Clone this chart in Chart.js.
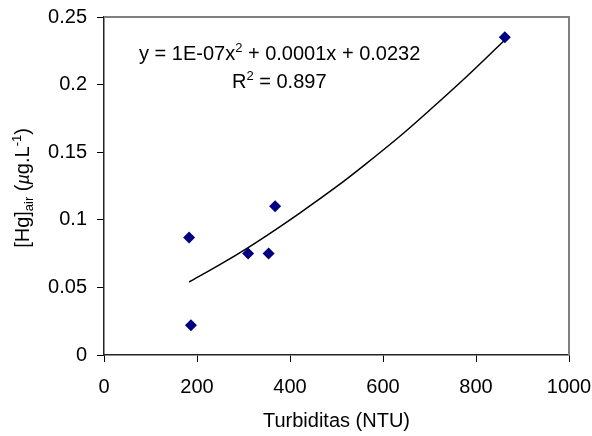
<!DOCTYPE html>
<html>
<head>
<meta charset="utf-8">
<script src="https://cdn.jsdelivr.net/npm/chart.js@4.4.1/dist/chart.umd.min.js"></script>
<style>
html,body{margin:0;padding:0;background:#fff;}
#wrap{width:592px;height:436px;position:relative;}
</style>
</head>
<body>
<div id="wrap"><canvas id="c" width="592" height="436"></canvas></div>
<script>
// Data
const turbidity = [183, 187, 310, 354, 368, 862];
const hgAir = [0.087, 0.022, 0.075, 0.075, 0.110, 0.235];
// Trend line (polynomial, order 2)
const trendX = [183, 250, 310, 370, 421, 500, 560, 637, 700, 780, 862];
const trendY = [0.054, 0.067, 0.0795, 0.093, 0.105, 0.1245, 0.1405, 0.162, 0.181, 0.206, 0.233];
const xTicks = [0, 200, 400, 600, 800, 1000];
const yTicks = [0, 0.05, 0.1, 0.15, 0.2, 0.25];
const equationText = ["y = 1E-07x", "2", " + 0.0001x + 0.0232"];
const r2Text = ["R", "2", " = 0.897"];
const xTitle = "Turbiditas (NTU)";

const FONT = "Liberation Sans, Arial, sans-serif";

const decor = {
  id: 'decor',
  afterDraw(chart) {
    const ctx = chart.ctx;
    const a = chart.chartArea;
    ctx.save();
    ctx.strokeStyle = '#808080';
    ctx.lineWidth = 2;
    ctx.beginPath();
    ctx.moveTo(a.left, a.top);
    ctx.lineTo(a.right, a.top);
    ctx.lineTo(a.right, a.bottom);
    ctx.stroke();

    ctx.fillStyle = '#000';
    ctx.textBaseline = 'alphabetic';
    ctx.textAlign = 'left';
    function drawSup(parts, x, y) {
      ctx.font = '20px ' + FONT;
      ctx.fillText(parts[0], x, y);
      x += ctx.measureText(parts[0]).width;
      ctx.font = '13px ' + FONT;
      ctx.fillText(parts[1], x, y - 8);
      x += ctx.measureText(parts[1]).width;
      ctx.font = '20px ' + FONT;
      ctx.fillText(parts[2], x, y);
    }
    drawSup(equationText, 139, 60);
    drawSup(r2Text, 232, 88);

    ctx.font = '20px ' + FONT;
    ctx.textAlign = 'center';
    ctx.textBaseline = 'middle';
    ctx.fillText(xTitle, (a.left + a.right) / 2, 421);

    const pieces = [
      {t: '[Hg]', f: '20px ' + FONT, dy: 0},
      {t: 'air', f: '13px ' + FONT, dy: 4},
      {t: ' (', f: '20px ' + FONT, dy: 0},
      {t: 'µ', f: 'italic 18px ' + FONT, dy: 0},
      {t: 'g.L', f: '20px ' + FONT, dy: 0},
      {t: '-1', f: '13px ' + FONT, dy: -8},
      {t: ')', f: '20px ' + FONT, dy: 0}
    ];
    let total = 0;
    pieces.forEach(p => { ctx.font = p.f; p.w = ctx.measureText(p.t).width; total += p.w; });
    ctx.translate(29, 188);
    ctx.rotate(-Math.PI / 2);
    ctx.textAlign = 'left';
    ctx.textBaseline = 'alphabetic';
    let x = -total / 2;
    pieces.forEach(p => { ctx.font = p.f; ctx.fillText(p.t, x, p.dy); x += p.w; });
    ctx.restore();
  }
};

new Chart(document.getElementById('c'), {
  type: 'scatter',
  data: {
    datasets: [
      {
        label: 'trend',
        data: trendX.map((x, i) => ({x: x, y: trendY[i]})),
        showLine: true,
        borderColor: '#000',
        borderWidth: 1.5,
        pointRadius: 0,
        fill: false,
        cubicInterpolationMode: 'monotone',
        order: 2
      },
      {
        label: 'Hg',
        data: turbidity.map((x, i) => ({x: x, y: hgAir[i]})),
        pointStyle: 'rectRot',
        pointRadius: 6,
        backgroundColor: '#000080',
        borderColor: '#000080',
        borderWidth: 0,
        order: 1
      }
    ]
  },
  options: {
    responsive: false,
    animation: false,
    layout: {padding: {left: 0, right: 23, top: 17, bottom: 0}},
    plugins: {legend: {display: false}, tooltip: {enabled: false}},
    scales: {
      x: {
        type: 'linear',
        min: 0, max: 1000,
        afterBuildTicks(s) { s.ticks = xTicks.map(v => ({value: v})); },
        afterFit(s) { s.height = 81; s.paddingLeft = 0; s.paddingRight = 0; },
        grid: {drawOnChartArea: false, drawTicks: true, tickLength: 7, color: '#000', lineWidth: 1},
        border: {display: true, color: '#222', width: 1.5},
        ticks: {color: '#000', font: {family: FONT, size: 20}, padding: 13, maxRotation: 0,
          callback: v => String(v)}
      },
      y: {
        type: 'linear',
        min: 0, max: 0.25,
        afterBuildTicks(s) { s.ticks = yTicks.map(v => ({value: v})); },
        afterFit(s) { s.width = 104; s.paddingTop = 0; s.paddingBottom = 0; },
        grid: {drawOnChartArea: false, drawTicks: true, tickLength: 7, color: '#000', lineWidth: 1},
        border: {display: true, color: '#222', width: 1.5},
        ticks: {color: '#000', font: {family: FONT, size: 20}, padding: 10,
          callback: v => String(Math.round(v * 100) / 100)}
      }
    }
  },
  plugins: [decor]
});
</script>
</body>
</html>
